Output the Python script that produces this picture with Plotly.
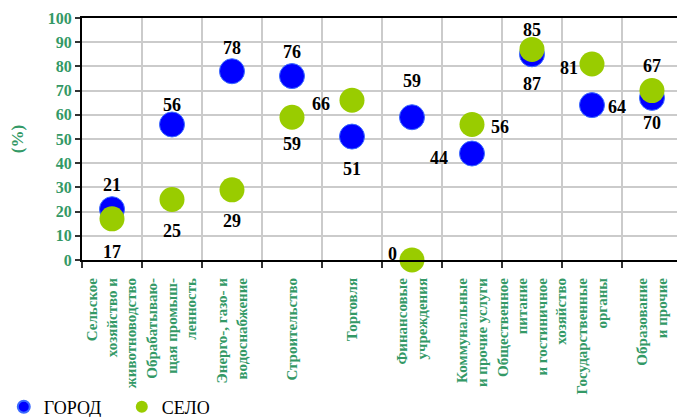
import plotly.graph_objects as go

categories = [
    "Сельское<br>хозяйство и<br>животноводство",
    "Обрабатываю-<br>щая промыш-<br>ленность",
    "Энерго-, газо- и<br>водоснабжение",
    "Строительство",
    "Торговля",
    "Финансовые<br>учреждения",
    "Коммунальные<br>и прочие услуги",
    "Общественное<br>питание<br>и гостиничное<br>хозяйство",
    "Государственные<br>органы",
    "Образование<br>и прочие",
]
city = [21, 56, 78, 76, 51, 59, 44, 85, 64, 67]
village = [17, 25, 29, 59, 66, 0, 56, 87, 81, 70]
y_ticks = [0, 10, 20, 30, 40, 50, 60, 70, 80, 90, 100]

# label offsets in pixels (dx, dy with dy positive = downward on screen)
city_off = [(0, -24), (0, -19), (0, -23), (0, -24), (0, 32), (0, -36), (-33, 4), (0, -24), (25, 2), (0, -32)]
village_off = [(0, 33), (0, 31), (0, 31), (0, 27), (-31, 4), (-19, -6), (28, 3), (0, 35), (-23, 4), (0, 32)]

GREEN_TXT = "#339966"
SERIF = "Times New Roman"

fig = go.Figure()
fig.add_trace(go.Scatter(
    x=categories, y=city, mode="markers", name="ГОРОД",
    marker=dict(size=25, color="#0000FF", line=dict(color="#3B6BFF", width=1)),
    cliponaxis=False,
))
fig.add_trace(go.Scatter(
    x=categories, y=village, mode="markers", name="СЕЛО",
    marker=dict(size=25, color="#99CC00", line=dict(color="#99CC00", width=0)),
    cliponaxis=False,
))

annotations = []
for vals, offs in ((city, city_off), (village, village_off)):
    for c, v, (dx, dy) in zip(categories, vals, offs):
        annotations.append(dict(
            x=c, y=v, xref="x", yref="y", text="<b>%d</b>" % v, showarrow=False,
            xshift=dx, yshift=-dy,
            font=dict(family=SERIF, size=18, color="black"),
        ))

fig.update_layout(
    width=677, height=417,
    margin=dict(l=82, r=0, t=18, b=157),
    paper_bgcolor="white", plot_bgcolor="white",
    font=dict(family=SERIF),
    showlegend=True,
    legend=dict(
        orientation="h", xref="container", yref="container",
        x=0.0056, xanchor="left", y=0.024, yanchor="middle",
        font=dict(family=SERIF, size=18, color="black"),
        itemsizing="constant", entrywidth=73, entrywidthmode="pixels",
        bgcolor="rgba(0,0,0,0)",
    ),
    annotations=annotations,
    xaxis=dict(
        type="category", categoryorder="array", categoryarray=categories,
        range=[-0.5, 9.417], automargin=False,
        tickson="boundaries", ticks="outside", ticklen=6, tickwidth=1.5, tickcolor="#333333",
        showgrid=True, gridcolor="#CBCBCB", gridwidth=2,
        showline=True, linecolor="black", linewidth=2, mirror=True,
        tickangle=-90, ticklabelstandoff=10,
        tickfont=dict(family=SERIF, size=15, color=GREEN_TXT, weight="bold"),
        zeroline=False,
    ),
    yaxis=dict(
        range=[0, 100], tickvals=y_ticks, automargin=False,
        ticks="outside", ticklen=5, tickwidth=1.5, tickcolor="#333333",
        showgrid=True, gridcolor="#CBCBCB", gridwidth=2,
        showline=True, linecolor="black", linewidth=2,
        tickfont=dict(family=SERIF, size=16, color=GREEN_TXT, weight="bold"),
        title=dict(text="(%)", font=dict(family=SERIF, size=17, color=GREEN_TXT, weight="bold"), standoff=20),
        zeroline=False,
    ),
)

fig.write_html("out.html", config={"displayModeBar": False},
               post_script="document.body.style.margin='0px';")
